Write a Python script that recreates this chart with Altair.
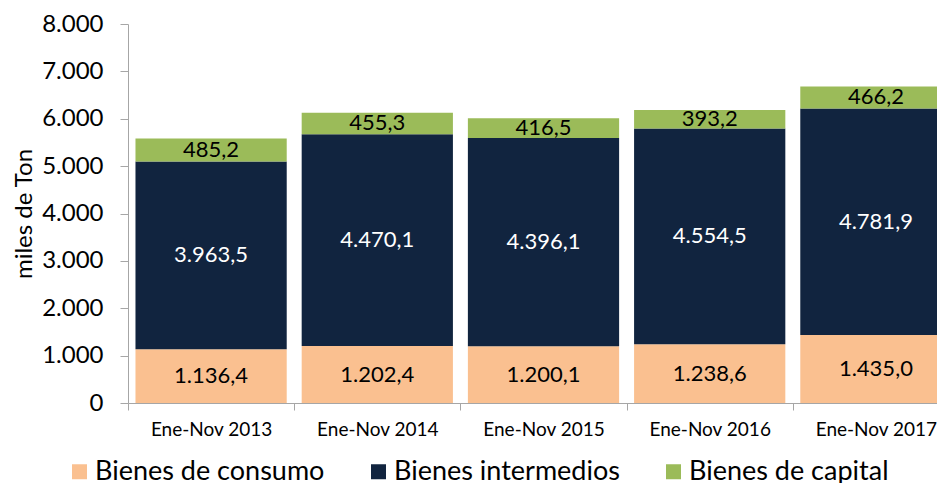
import altair as alt
import pandas as pd

periods = ["Ene-Nov 2013", "Ene-Nov 2014", "Ene-Nov 2015", "Ene-Nov 2016", "Ene-Nov 2017"]
series = ["Bienes de consumo", "Bienes intermedios", "Bienes de capital"]
consumo = [1136.4, 1202.4, 1200.1, 1238.6, 1435.0]
intermedios = [3963.5, 4470.1, 4396.1, 4554.5, 4781.9]
capital = [485.2, 455.3, 416.5, 393.2, 466.2]
colors = ["#FAC090", "#11243F", "#9BBB59"]
y_ticks = [0, 1000, 2000, 3000, 4000, 5000, 6000, 7000, 8000]


def es_fmt(v):
    s = f"{v:,.1f}"
    return s.replace(",", "X").replace(".", ",").replace("X", ".")


rows = []
for i, vals in enumerate([consumo, intermedios, capital]):
    for p, v in zip(periods, vals):
        rows.append({"period": p, "serie": series[i], "ord": i, "value": v, "label": es_fmt(v)})
df = pd.DataFrame(rows)

FONT = "Lato"
GRAY = "#A6A6A6"

x_enc = alt.X(
    "period:N",
    sort=periods,
    scale=alt.Scale(range=[0, 831], paddingInner=0, paddingOuter=0),
    axis=alt.Axis(
        title=None, labelAngle=0, tickBand="extent", tickSize=7, tickColor=GRAY,
        domainColor=GRAY, labelFont=FONT, labelFontSize=19, labelColor="black",
        labelPadding=10, grid=False,
    ),
)

base = alt.Chart(df)

bars = base.mark_bar(width={"band": 0.91}, clip=True).encode(
    x=x_enc,
    y=alt.Y(
        "value:Q",
        stack="zero",
        scale=alt.Scale(domain=[0, 8000]),
        axis=alt.Axis(
            values=y_ticks,
            labelExpr="replace(format(datum.value, ','), ',', '.')",
            title="miles de Ton", grid=False, domainColor=GRAY, tickColor=GRAY,
            tickSize=8, labelFont=FONT, labelFontSize=24, labelColor="black",
            labelPadding=17, titleFont=FONT, titleFontSize=24, titleFontWeight="normal",
            titleColor="black", titlePadding=5,
        ),
    ),
    color=alt.Color(
        "serie:N",
        sort=series,
        scale=alt.Scale(domain=series, range=colors),
        legend=alt.Legend(
            orient="none", legendX=-62, legendY=434, direction="horizontal", title=None,
            symbolType="square", symbolSize=225, symbolStrokeWidth=0, labelFont=FONT,
            labelFontSize=27, labelColor="black", labelOffset=2, columnPadding=40,
            labelLimit=400,
        ),
    ),
    order=alt.Order("ord:Q", sort="ascending"),
)

text = (
    base.transform_stack(
        stack="value", groupby=["period"], sort=[alt.SortField("ord", order="ascending")],
        as_=["v0", "v1"],
    )
    .transform_calculate(mid="(datum.v0 + datum.v1) / 2")
    .mark_text(font=FONT, fontSize=22, clip=True)
    .encode(
        x=alt.X("period:N", sort=periods),
        y=alt.Y("mid:Q"),
        text="label:N",
        color=alt.condition("datum.serie == 'Bienes intermedios'", alt.value("white"), alt.value("black")),
    )
)

chart = (
    alt.layer(bars, text)
    .properties(
        width=809, height=379, autosize="none",
        padding={"left": 120, "top": 16, "right": 0, "bottom": 80},
    )
    .configure_view(stroke=None)
)

chart.save("out.html", embed_options={"renderer": "svg", "actions": False})
